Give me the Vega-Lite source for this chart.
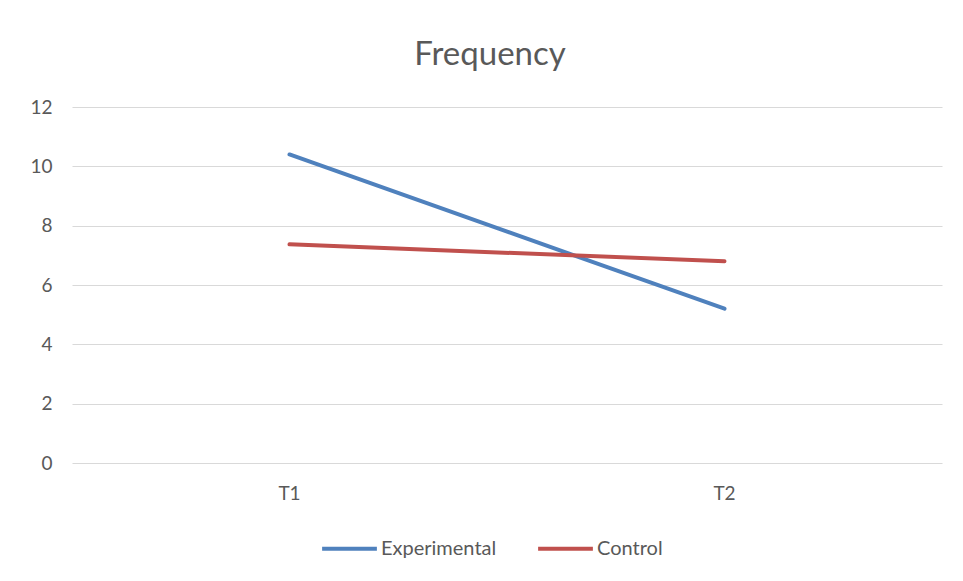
{
  "$schema": "https://vega.github.io/schema/vega-lite/v6.json",
  "autosize": {"type": "none"},
  "width": 870,
  "height": 356,
  "padding": {"left": 72, "top": 107, "right": 21, "bottom": 118},
  "background": "white",
  "config": {"view": {"stroke": null}, "font": "Lato"},
  "title": {"text": "Frequency", "fontSize": 33, "font": "Lato", "fontWeight": "normal", "color": "#595959", "anchor": "middle", "offset": 26, "dx": -17},
  "data": {"values": [
    {"time": "T1", "group": "Experimental", "value": 10.4},
    {"time": "T2", "group": "Experimental", "value": 5.2},
    {"time": "T1", "group": "Control", "value": 7.37},
    {"time": "T2", "group": "Control", "value": 6.8}
  ]},
  "mark": {"type": "line", "strokeWidth": 4, "strokeCap": "round"},
  "encoding": {
    "x": {"field": "time", "type": "nominal", "title": null,
      "scale": {"type": "band", "paddingInner": 0, "paddingOuter": 0},
      "axis": {"labelAngle": 0, "labelFontSize": 19, "labelColor": "#595959", "ticks": false, "domain": false, "labelPadding": 21, "grid": false}},
    "y": {"field": "value", "type": "quantitative", "title": null,
      "scale": {"domain": [0, 12], "nice": false},
      "axis": {"values": [0, 2, 4, 6, 8, 10, 12], "labelFontSize": 19, "labelColor": "#595959", "ticks": false, "domain": false, "labelPadding": 20, "gridColor": "#d9d9d9", "gridWidth": 1}},
    "color": {"field": "group", "type": "nominal", "title": null,
      "scale": {"domain": ["Experimental", "Control"], "range": ["#4F81BD", "#C0504D"]},
      "legend": {"orient": "none", "legendX": 248, "legendY": 412, "direction": "horizontal", "symbolType": "stroke", "symbolSize": 3000, "symbolStrokeWidth": 4, "labelFontSize": 20, "labelColor": "#595959", "columnPadding": 33, "labelOffset": 2}}
  }
}
